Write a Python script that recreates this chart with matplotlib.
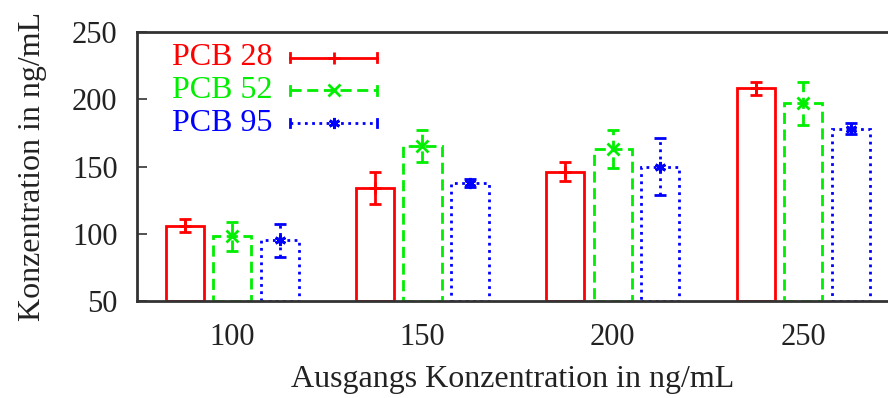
import numpy as np
import matplotlib
matplotlib.use("Agg")
import matplotlib.pyplot as plt

# ==============================
# Data
# ==============================
start_conc = [100, 150, 200, 250]
series = ["PCB 28", "PCB 52", "PCB 95"]
pcb28 = [106, 134, 146, 208]
pcb28_err = [5, 12, 7, 5]
pcb52 = [98, 165, 163, 197]
pcb52_err = [11, 12, 14, 16]
pcb95 = [95, 138, 150, 178]
pcb95_err = [12, 3, 21, 4]

colors = ["#ff0000", "#00ee00", "#0000ff"]
styles = ["-", (0, (4, 2)), (0, (1, 1.6))]
markers = ["+", "x", (6, 2, 0)]
offsets = [-12.5, 0, 12.5]
width = 10

plt.rcParams["font.family"] = ["Liberation Serif", "DejaVu Serif"]

fig = plt.figure(figsize=(8.88, 3.98), dpi=100)
ax = fig.add_axes([137 / 888, 97 / 398, 751 / 888, 269 / 398])

x = np.array(start_conc, dtype=float)
for vals, errs, c, ls, m, off in zip([pcb28, pcb52, pcb95],
                                     [pcb28_err, pcb52_err, pcb95_err],
                                     colors, styles, markers, offsets):
    ax.bar(x + off, np.array(vals) - 50, width=width, bottom=50,
           facecolor="white", edgecolor=c, linestyle=ls, linewidth=2, zorder=2)
    eb = ax.errorbar(x + off, vals, yerr=errs, fmt="none", ecolor=c,
                     elinewidth=2, capsize=4, capthick=2, zorder=3)
    eb[2][0].set_linestyle(ls)
    ax.plot(x + off, vals, linestyle="none", marker=m, color=c,
            markersize=8, markeredgewidth=2, zorder=4)

# legend drawn by hand in gnuplot style
for i, (name, c, ls, m) in enumerate(zip(series, colors, styles, markers)):
    yy = 0.905 - i * 0.122
    ax.text(0.046, yy, name, color=c, fontsize=23, transform=ax.transAxes,
            va="center", ha="left")
    ax.plot([0.204, 0.320], [yy, yy], color=c, linestyle=ls, linewidth=2,
            transform=ax.transAxes, clip_on=False)
    for xe in (0.204, 0.320):
        ax.plot([xe, xe], [yy - 0.016, yy + 0.016], color=c, linewidth=2,
                transform=ax.transAxes)
    ax.plot([0.262], [yy], marker=m, color=c, markersize=8,
            markeredgewidth=2, transform=ax.transAxes)

ax.set_xlim(75, 272.3)
ax.set_ylim(50, 250)
ax.set_xticks(start_conc)
ax.set_yticks([50, 100, 150, 200, 250])
ax.tick_params(direction="in", length=7, width=1.2, colors="#333333",
               labelcolor="#222222", labelsize=22)
ax.tick_params(axis="x", pad=16)
ax.tick_params(axis="y", pad=14)
ax.spines["right"].set_visible(False)
for s in ["top", "bottom", "left"]:
    ax.spines[s].set_linewidth(2)
    ax.spines[s].set_color("#333333")

ax.set_xlabel("Ausgangs Konzentration in ng/mL", fontsize=23, color="#222222",
              labelpad=9)
ax.set_ylabel("Konzentration in ng/mL", fontsize=23, color="#222222",
              labelpad=18)

fig.savefig("out.png", dpi=100)
